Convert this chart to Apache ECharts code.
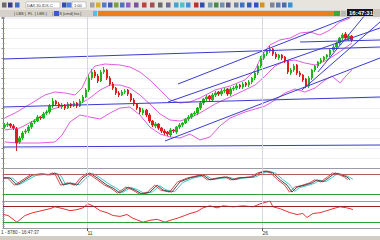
<!DOCTYPE html>
<html><head><meta charset="utf-8">
<script src="https://cdn.jsdelivr.net/npm/echarts@6/dist/echarts.min.js"></script>
<style>html,body{margin:0;padding:0;background:#fff;overflow:hidden}#c{width:380px;height:240px}</style>
</head><body><div id="c"></div><script>
// ---- data ----
const slotCount = 125;
const opens  = [141,143,144,142,139,126,130,136,137,141, 146,147,151,150,155,156,162,167,164,161, 163,160,164,162,165,162,167,171,178,190, 196,192,187,196,198,190,184,180,175,173, 176,178,174,168,164,160,155,158,153,147, 142,144,140,137,136,133,138,136,141,143, 145,149,151,154,155,160,165,169,172,168, 173,176,174,177,179,174,179,180,183,181, 185,183,186,190,195,202,210,214,217,219, 214,210,213,211,207,195,198,203,195,193, 189,182,190,198,202,206,208,211,213,218, 221,225,230,234,229,232];
const closes = [143,144,142,140,125,130,135,137,141,145, 147,151,150,154,156,162,167,164,162,163, 160,164,162,165,162,167,171,178,190,196, 192,187,196,198,190,184,180,175,173,176, 177,174,168,164,160,156,158,153,147,143, 144,140,137,135,134,138,137,141,143,145, 149,151,154,155,160,165,169,171,169,173, 175,174,177,178,174,179,180,182,181,184, 183,186,190,195,202,210,214,217,219,214, 211,213,210,207,196,198,202,195,193,188, 182,190,198,202,206,208,211,213,218,221, 225,230,233,230,232,228];
const highs  = [145,146,145,144,141,132,137,139,143,147, 149,153,152,156,158,164,170,168,166,165, 164,166,165,167,166,169,173,180,193,199, 198,194,198,201,199,192,186,181,177,178, 179,179,175,170,165,161,160,159,155,148, 146,145,141,139,137,140,139,142,145,146, 150,153,155,157,161,167,170,173,173,175, 177,177,179,180,180,181,182,184,184,186, 186,188,191,197,204,212,216,219,222,220, 216,214,214,212,208,200,204,204,197,194, 190,192,199,203,207,210,212,214,219,223, 226,231,235,236,234,233];
const lows   = [139,141,140,138,117,124,128,134,135,139, 144,146,148,149,153,154,160,162,160,159, 158,159,160,161,160,161,165,170,176,188, 190,185,186,194,188,182,178,173,171,172, 174,172,166,162,158,154,153,151,145,141, 140,138,135,133,132,131,135,134,139,141, 144,147,149,152,153,158,163,167,167,166, 171,172,172,175,172,172,177,178,179,179, 181,181,184,188,193,200,208,212,215,212, 209,208,208,205,194,193,196,193,191,186, 180,180,188,196,200,204,206,209,211,216, 219,223,228,228,227,226];

const upperBand  = [[0,150],[3.5,155],[8.5,164],[13.4,173],[16.7,176],[20.1,175],[23.4,173],[25.7,180],[27.7,193],[30,202],[33.3,204],[38.3,203],[41.6,201],[44.9,196],[48.2,188],[51.6,178],[54.9,168],[58.2,165],[61.5,166],[64.8,170],[69.8,178],[74.8,182],[79.7,188],[83.1,198],[85.4,213],[88,223],[91.3,228],[94.7,230],[98,235],[101.3,236],[104.6,233],[107.9,238],[111.2,246],[114.6,250]];
const middleBand = [[0,138],[5.1,140],[10.1,148],[15.1,158],[20.1,163],[25,164],[28.3,170],[31.7,178],[35,183],[38.3,183],[41.6,180],[44.9,173],[48.2,164],[51.6,154],[54.9,148],[58.2,147],[61.5,150],[64.8,155],[69.8,164],[74.8,171],[79.7,178],[83.1,183],[86.4,192],[89.7,202],[93,207],[96.3,208],[99.6,205],[103,203],[106.3,207],[109.6,213],[112.9,220],[115.2,225]];
const lowerBand  = [[0,126],[5.1,125],[11.8,125],[16.7,126],[19.1,133],[21.7,146],[25,153],[28.3,151],[31.7,149],[35,155],[38.3,160],[41.6,161],[44.9,153],[48.2,141],[51.6,134],[54.9,131],[58.2,130],[61.5,134],[64.8,128],[68.1,131],[71.4,142],[74.8,150],[79.7,156],[83.1,159],[86.4,162],[89.7,168],[93,175],[96.3,179],[99.6,176],[103,180],[106.3,188],[108.6,192],[111.2,185],[113.5,193],[115.2,198]];

const trendA  = [[-0.5,209],[124.5,221]];
const trendB  = [[-0.5,161],[124.5,171]];
const trendC  = [[-0.5,121],[124.5,123]];
const trendE  = [[53.2,127],[124.5,210]];
const trendF  = [[54.2,166],[124.5,240]];
const trendG  = [[57.5,184],[124.5,263]];
const trendH1 = [[98.6,178],[124.5,246]];
const trendH2 = [[103.9,196],[124.5,271]];
const trendI  = [[98,226],[124.5,228]];

const oscMain = [[-0.5,70],[1.8,70],[4.1,48],[9.4,79],[12.8,82],[15.1,79],[16.7,85],[17.7,79],[19.4,48],[21.7,55],[24,48],[26,70],[28.3,85],[30.7,70],[34,48],[36,39],[38.3,24],[41,42],[43.3,33],[45.6,21],[48.2,27],[50.6,48],[52.6,33],[55.5,27],[58.2,58],[61.5,70],[65.8,79],[68.1,64],[71.4,70],[73.8,73],[75.8,64],[78.1,70],[82.4,73],[84.7,85],[87,91],[89,85],[91.4,64],[93.7,48],[95.3,27],[97,42],[99.6,48],[102,55],[103.6,64],[105.6,58],[107.9,73],[109.6,85],[111.9,79],[113.5,73],[114.6,64]];
const oscLead = [[-0.5,68],[1,70],[3.3,48],[8.6,79],[12,82],[14.3,79],[15.9,85],[16.9,79],[18.6,48],[20.9,55],[23.2,48],[25.2,70],[27.5,85],[29.9,70],[33.2,48],[35.2,39],[37.5,24],[40.2,42],[42.5,33],[44.8,21],[47.4,27],[49.8,48],[51.8,33],[54.7,27],[57.4,58],[60.7,70],[65,79],[67.3,64],[70.6,70],[73,73],[75,64],[77.3,70],[81.6,73],[83.9,85],[86.2,91],[88.2,85],[90.6,64],[92.9,48],[94.5,27],[96.2,42],[98.8,48],[101.2,55],[102.8,64],[104.8,58],[107.1,73],[108.8,85],[111.1,79],[112.7,73],[113.8,64]];
const oscLag  = [[-0.5,71],[2.7,69],[5,50],[10.3,77],[13.7,81],[16,80],[17.6,83],[18.6,78],[20.3,50],[22.6,54],[24.9,49],[26.9,68],[29.2,84],[31.6,71],[34.9,50],[36.9,40],[39.2,26],[41.9,41],[44.2,34],[46.5,22],[49.1,28],[51.5,46],[53.5,34],[56.4,28],[59.1,56],[62.4,69],[66.7,78],[69,65],[72.3,69],[74.7,72],[76.7,65],[79,69],[83.3,73],[85.6,84],[87.9,90],[89.9,84],[92.3,65],[94.6,49],[96.2,29],[97.9,41],[100.5,47],[102.9,54],[104.5,63],[106.5,59],[108.8,72],[110.5,84],[112.8,79],[114.4,72],[115.5,66]];
const oscLevels = [80, 20];

const rsiValues = [[-0.5,48.5],[1.2,46],[4.1,29.4],[6.8,46],[9.4,53],[15.1,63],[16.7,67.6],[19.4,63],[21.7,58],[24,60.5],[26,65],[27.7,74.8],[29.3,70],[31.7,58],[34,53],[36,46],[38.3,43.7],[40.6,48.5],[42.6,39],[45.9,29.4],[48.2,34],[50.6,36.6],[53.2,29.4],[54.9,34],[57.2,39],[59.8,46],[61.5,51],[63.8,55.7],[65.8,65],[68.1,70],[70.5,65],[72.4,70],[75.8,67.6],[79.1,70],[82.4,67.6],[84.7,74.8],[87,79.6],[88,82],[89,67.6],[91.4,63],[94.7,53],[97,48.5],[98.9,51],[100.3,41],[102.3,51],[104.6,53],[106.9,58],[108.9,63],[111.2,67.6],[113.5,65],[114.6,63],[115.5,60.5]];
const rsiLevels = [70, 30];

const timeTicks  = [27.5, 85.5];
const timeLabels = ['11', '26'];
const headerTexts = ['DAX.30.IDX-C', '1:00', '16:47:31'];
const footerText = '1 - 8780 - 16:47:37';

// ---- build ----
const candleData = opens.map((o, i) => [o, closes[i], lows[i], highs[i]]);
const slots = Array.from({length: slotCount}, (_, i) => String(i));
const BLUE = '#3b3bcf', PINK = '#e25ce0', SEP = '#d6d6de';
const FONT = 'Liberation Sans';

function lineSeries(data, color, xi, yi, extra) {
  return Object.assign({type: 'line', data, xAxisIndex: xi, yAxisIndex: yi, symbol: 'none', silent: true,
    lineStyle: {color, width: 1}, itemStyle: {color}, z: 2, clip: true}, extra || {});
}
function vSeps() {
  return {silent: true, symbol: 'none', label: {show: false}, animation: false,
    lineStyle: {color: SEP, width: 1, type: 'solid'}, data: timeTicks.map(v => ({xAxis: v}))};
}
function hLevels(levels, colors) {
  return {silent: true, symbol: 'none', label: {show: false}, animation: false,
    data: levels.map((v, k) => ({yAxis: v, lineStyle: {color: colors[k], width: 1, type: 'solid'}}))};
}

const valX = (gi, extra) => Object.assign({type: 'value', gridIndex: gi, min: -0.5, max: slotCount - 0.5,
  axisLabel: {show: false}, axisTick: {show: false}, splitLine: {show: false},
  axisLine: {show: true, onZero: false, lineStyle: {color: '#9c9ca4'}}}, extra || {});

const chart = echarts.init(document.getElementById('c'), null, {renderer: 'svg'});
const toolbarIcons = [
  [2,'#6a6a6a'],[8,'#3a3a8a'],[15,'#3d6fc9'],[62,'#3050b0'],[67,'#5080e0'],[90,'#a0a0a0'],[96,'#d8b030'],
  [102,'#4d7bd0'],[108,'#3a5fb0'],[114,'#7aa040'],[120,'#5070c0'],[126,'#9060c0'],[134,'#8050a0'],
  [142,'#c04040'],[150,'#a05050'],[158,'#6a6a6a'],[166,'#6a6a9a'],[174,'#4aa0d0'],[180,'#50c0d0'],[186,'#4090e0'],
  [194,'#c03030'],[200,'#3050b0'],[208,'#7a9ab0'],[214,'#4a8a4a'],[220,'#7090b0'],[226,'#5a5a8a'],
  [234,'#6a80a0'],[240,'#4070c0'],[247,'#3060b0'],[254,'#3050d0'],[260,'#d89020'],[270,'#8080a0'],[276,'#5a7ab0'],[282,'#4a6ab0'],[288,'#3a90d0']
];
const graphics = [
  {type: 'rect', shape: {x: 0, y: 0, width: 380, height: 10}, style: {fill: '#e7e4dd'}, silent: true},
  {type: 'rect', shape: {x: 0, y: 10, width: 380, height: 7}, style: {fill: '#d6d2ca'}, silent: true},
  {type: 'rect', shape: {x: 98, y: 11, width: 236, height: 5}, style: {fill: '#f07d1d'}, silent: true},
  {type: 'rect', shape: {x: 334, y: 11, width: 6, height: 5}, style: {fill: '#3aa83a'}, silent: true},
  {type: 'rect', shape: {x: 341, y: 11, width: 5, height: 5}, style: {fill: '#b8b8b8'}, silent: true},
  {type: 'rect', shape: {x: 347, y: 9, width: 28, height: 7}, style: {fill: '#161616'}, silent: true},
  {type: 'text', x: 361, y: 12.5, style: {text: headerTexts[2], fill: '#ffffff', font: 'bold 6px ' + FONT, align: 'center', verticalAlign: 'middle'}, silent: true},
  {type: 'rect', shape: {x: 26, y: 2, width: 34, height: 6}, style: {fill: '#ffffff', stroke: '#a0a0a0', lineWidth: 0.5}, silent: true},
  {type: 'text', x: 27, y: 5, style: {text: headerTexts[0], fill: '#333', font: '4px ' + FONT, verticalAlign: 'middle'}, silent: true},
  {type: 'rect', shape: {x: 72, y: 2, width: 14, height: 6}, style: {fill: '#ffffff', stroke: '#a0a0a0', lineWidth: 0.5}, silent: true},
  {type: 'text', x: 74, y: 5, style: {text: headerTexts[1], fill: '#333', font: '4px ' + FONT, verticalAlign: 'middle'}, silent: true},
  {type: 'text', x: 14, y: 13.5, style: {text: '| LBS |  FL  | LBS |     | LBS |cmd| Ins |', fill: '#333', font: '4px ' + FONT, verticalAlign: 'middle'}, silent: true},
  {type: 'rect', shape: {x: 54, y: 11, width: 5, height: 5}, style: {fill: '#3a5ad0'}, silent: true},
  {type: 'rect', shape: {x: 93, y: 11, width: 4, height: 5}, style: {fill: '#50c0e0'}, silent: true},
  {type: 'line', shape: {x1: 3.5, y1: 17, x2: 3.5, y2: 229}, style: {stroke: '#7676a6', lineWidth: 1}, silent: true},
  {type: 'text', x: 1, y: 232.5, style: {text: footerText, fill: '#333', font: '4.5px ' + FONT, verticalAlign: 'middle'}, silent: true},
  {type: 'rect', shape: {x: 0, y: 236, width: 380, height: 4}, style: {fill: '#d2cec6'}, silent: true},
  {type: 'rect', shape: {x: 373, y: 9, width: 7, height: 8}, style: {fill: '#c8c4bc'}, silent: true}
].concat(toolbarIcons.map(([x, c]) => ({type: 'rect', shape: {x: x, y: 2.5, width: 4.5, height: 5}, style: {fill: c}, silent: true})));

chart.setOption({
  animation: false,
  backgroundColor: '#ffffff',
  textStyle: {fontFamily: FONT},
  grid: [
    {left: 3, right: 0, top: 17, height: 151},
    {left: 3, right: 0, top: 168, height: 33},
    {left: 3, right: 0, top: 201, height: 27}
  ],
  xAxis: [
    {type: 'category', gridIndex: 0, data: slots, boundaryGap: true, axisLabel: {show: false}, axisTick: {show: false},
      axisLine: {show: true, lineStyle: {color: '#9c9ca4'}}, splitLine: {show: false}},
    valX(0, {axisLine: {show: false}}),
    valX(1),
    valX(2, {
      axisTick: {show: true, customValues: timeTicks, length: 3, lineStyle: {color: '#555'}},
      axisLabel: {show: true, customValues: timeTicks, fontSize: 5, color: '#333', margin: 2, align: 'left',
        formatter: v => timeLabels[timeTicks.indexOf(v)] || ''}
    })
  ],
  yAxis: [
    {type: 'value', gridIndex: 0, min: 100, max: 251, interval: 10, position: 'right',
      axisLabel: {show: false}, axisLine: {show: false},
      axisTick: {show: true, inside: true, length: 3, lineStyle: {color: '#8a8a8a'}},
      minorTick: {show: true, splitNumber: 2, length: 2, lineStyle: {color: '#a0a0a0'}},
      splitLine: {show: true, lineStyle: {color: '#efeff4', width: 1}}},
    {type: 'value', gridIndex: 1, min: 0, max: 100, interval: 20, position: 'right', axisLabel: {show: false},
      axisLine: {show: false}, axisTick: {show: true, inside: true, length: 2, lineStyle: {color: '#999'}},
      splitLine: {show: false}},
    {type: 'value', gridIndex: 2, min: 15, max: 82, interval: 5, position: 'right', axisLabel: {show: false},
      axisLine: {show: false}, axisTick: {show: true, inside: true, length: 2, lineStyle: {color: '#999'}},
      splitLine: {show: false}}
  ],
  graphic: graphics,
  series: [
    lineSeries(middleBand, PINK, 1, 0, {markLine: vSeps(), z: 1}),
    lineSeries(upperBand, PINK, 1, 0),
    lineSeries(lowerBand, PINK, 1, 0),
    {type: 'candlestick', xAxisIndex: 0, yAxisIndex: 0, data: candleData, barWidth: 2, silent: true, z: 3,
      itemStyle: {color: '#1fb51f', color0: '#e31d1d', borderColor: '#1fb51f', borderColor0: '#e31d1d', borderWidth: 1}},
    lineSeries(trendA, BLUE, 1, 0, {z: 4}),
    lineSeries(trendB, BLUE, 1, 0, {z: 4}),
    lineSeries(trendC, BLUE, 1, 0, {z: 4}),
    lineSeries(trendE, BLUE, 1, 0, {z: 4}),
    lineSeries(trendF, BLUE, 1, 0, {z: 4}),
    lineSeries(trendG, BLUE, 1, 0, {z: 4}),
    lineSeries(trendH1, BLUE, 1, 0, {z: 4}),
    lineSeries(trendH2, BLUE, 1, 0, {z: 4}),
    lineSeries(trendI, BLUE, 1, 0, {z: 4}),
    lineSeries(oscLag, '#3cc6c6', 2, 1, {markLine: vSeps(), z: 1}),
    lineSeries(oscLead, '#d84848', 2, 1, {markLine: hLevels(oscLevels, ['#b35c5c', '#2f9f3f']), z: 2}),
    lineSeries(oscMain, '#4a4a4a', 2, 1, {z: 3}),
    lineSeries(rsiValues, '#e03434', 3, 2, {z: 3, markLine: {silent: true, symbol: 'none', label: {show: false},
      data: [...timeTicks.map(v => ({xAxis: v, lineStyle: {color: SEP, width: 1, type: 'solid'}})),
             ...rsiLevels.map((v, k) => ({yAxis: v, lineStyle: {color: ['#9a2424', '#2f9f3f'][k], width: 1, type: 'solid'}}))]}})
  ]
});
</script></body></html>
